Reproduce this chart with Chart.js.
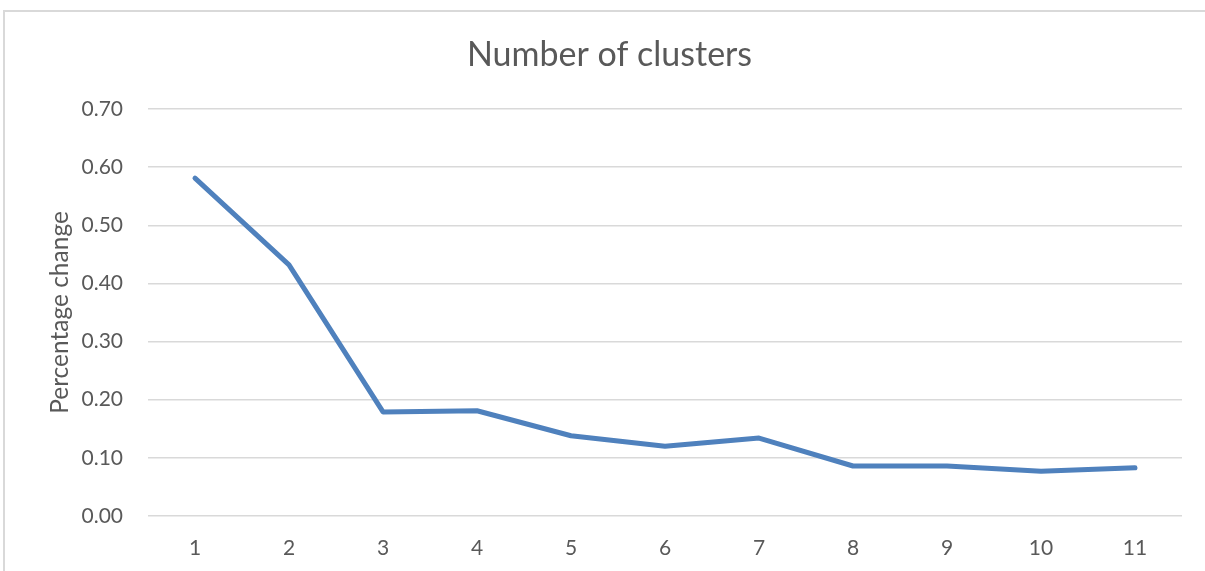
<!DOCTYPE html>
<html>
<head>
<meta charset="utf-8">
<script src="https://cdn.jsdelivr.net/npm/chart.js@4/dist/chart.umd.min.js"></script>
<style>
  html, body { margin: 0; padding: 0; background: #ffffff; overflow: hidden; }
  #wrap { position: absolute; left: 0; top: 0; width: 1205px; height: 571px; }
  #frame { position: absolute; left: 3px; top: 10px; width: 1300px; height: 700px;
           border-left: 2px solid #d9d9d9; border-top: 2px solid #d9d9d9; pointer-events: none; }
</style>
</head>
<body>
<div id="wrap"><canvas id="c" width="1205" height="571"></canvas></div>
<div id="frame"></div>
<script>
const categories = ['1', '2', '3', '4', '5', '6', '7', '8', '9', '10', '11'];
const percentageChange = [0.581, 0.432, 0.179, 0.181, 0.138, 0.120, 0.134, 0.086, 0.086, 0.077, 0.083];
const yTicks = [0, 0.1, 0.2, 0.3, 0.4, 0.5, 0.6, 0.7];
const chartTitle = 'Number of clusters';
const yTitle = 'Percentage change';

const textColor = '#595959';
const FONT = 'Lato, "Open Sans", sans-serif';

new Chart(document.getElementById('c'), {
  type: 'line',
  data: {
    labels: categories,
    datasets: [{
      data: percentageChange,
      borderColor: '#4f81bd',
      borderWidth: 5,
      pointRadius: 0,
      pointHoverRadius: 0,
      fill: false,
      tension: 0,
      borderCapStyle: 'round',
      borderJoinStyle: 'round'
    }]
  },
  options: {
    responsive: false,
    animation: false,
    layout: { padding: { left: 37, right: 23, top: 0, bottom: 0 } },
    plugins: {
      legend: { display: false },
      tooltip: { enabled: false },
      title: {
        display: true,
        text: chartTitle,
        color: textColor,
        font: { family: FONT, size: 34, weight: 'normal', lineHeight: 1.2 },
        padding: { top: 34.6, bottom: 33.6 }
      }
    },
    scales: {
      x: {
        type: 'category',
        offset: true,
        grid: { display: false, drawTicks: false },
        border: { display: false },
        ticks: { color: textColor, font: { family: FONT, size: 21 }, padding: 20, maxRotation: 0 },
        afterFit: (s) => { s.height = 55; }
      },
      y: {
        min: 0,
        max: 0.7,
        afterBuildTicks: (s) => { s.ticks = yTicks.map(v => ({ value: v })); },
        grid: { color: '#d9d9d9', lineWidth: 1.5, drawTicks: false },
        border: { display: false },
        ticks: {
          color: textColor,
          font: { family: FONT, size: 21 },
          padding: 25,
          callback: (v) => Number(v).toFixed(2)
        },
        title: {
          display: true,
          text: yTitle,
          color: textColor,
          font: { family: FONT, size: 24.5, weight: 'normal', lineHeight: 1.2 },
          padding: { top: 8.3, bottom: 0 }
        },
        afterFit: (s) => { s.width = 111; }
      }
    }
  }
});
</script>
</body>
</html>
